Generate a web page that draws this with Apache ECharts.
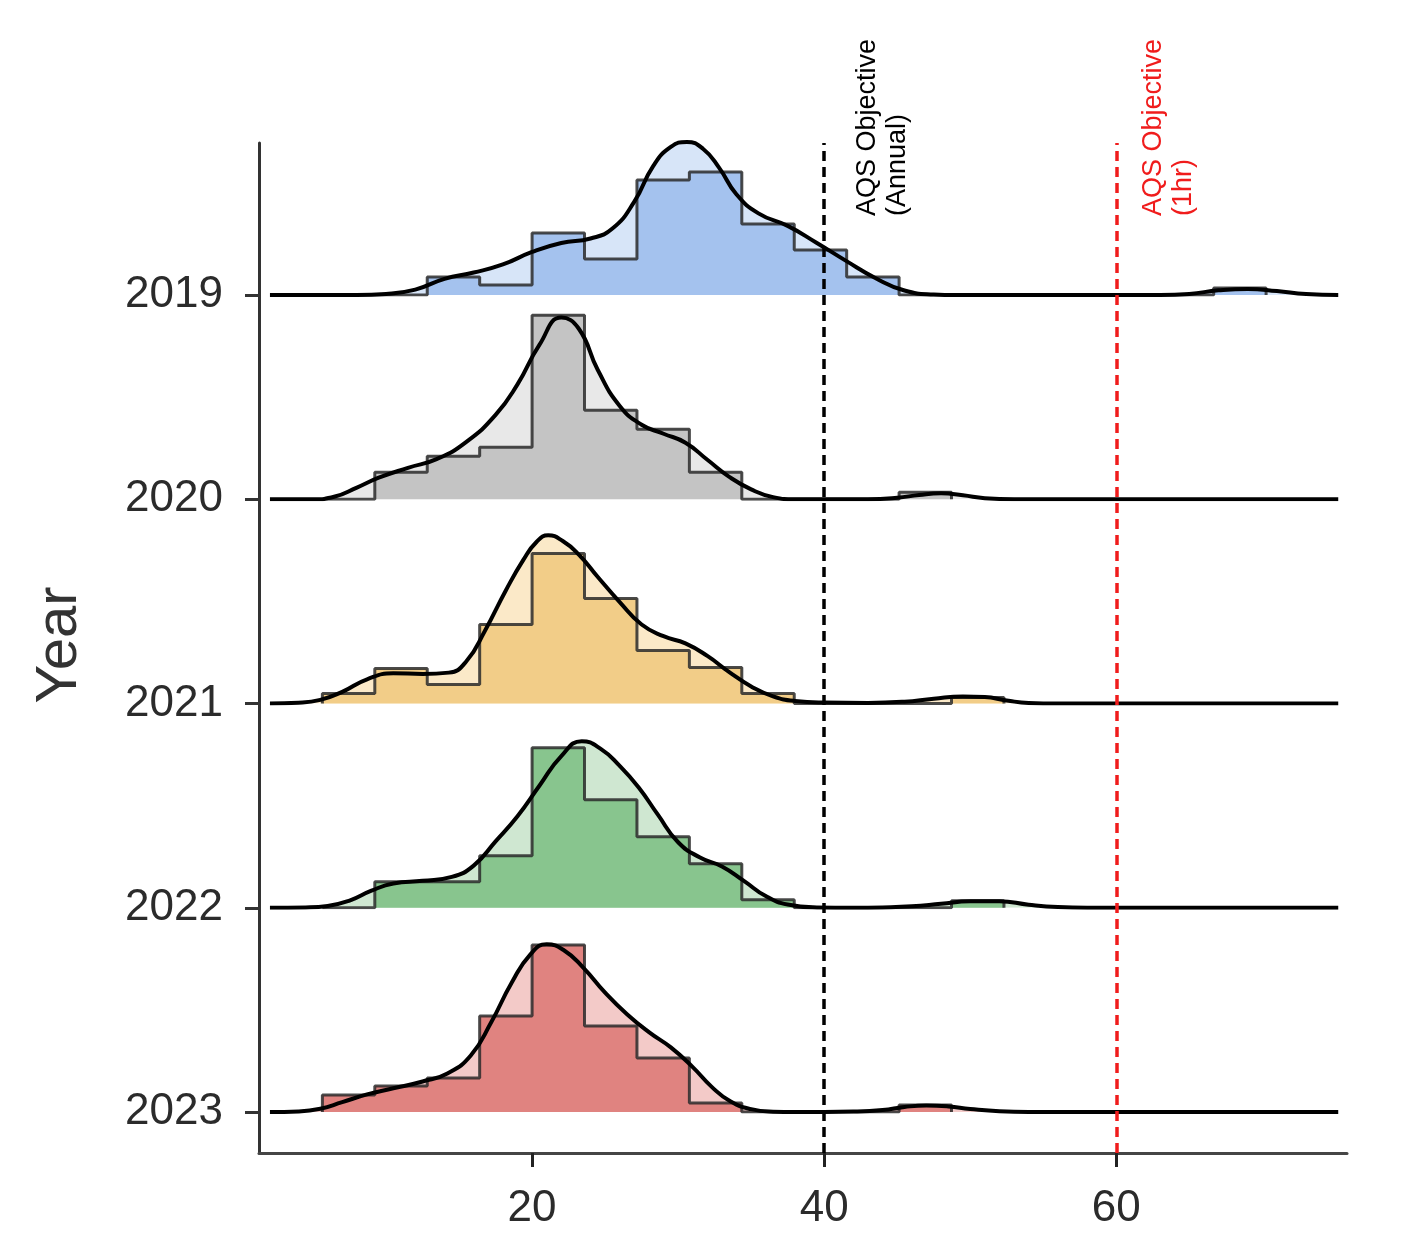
<!DOCTYPE html>
<html>
<head>
<meta charset="utf-8">
<title>NO2 distribution by year</title>
<script src="https://cdn.jsdelivr.net/npm/echarts@6/dist/echarts.min.js"></script>
<style>
  html, body { margin: 0; padding: 0; background: #ffffff; }
  #chart { width: 1421px; height: 1255px; }
</style>
</head>
<body>
<div id="chart"></div>
<script>
// ---- data ----------------------------------------------------------------
const years = ['2019', '2020', '2021', '2022', '2023'];
const xTicks = [20, 40, 60];

// histogram bins: left edge of first bin and bin width (concentration units)
const binStart = 5.64;
const binWidth = 3.59;

// histogram densities, one value per bin starting at binStart
const hist2019 = [0, 0, 0.0100, 0.0056, 0.0345, 0.0201, 0.0641, 0.0685, 0.0396, 0.0251, 0.0100, 0, 0, 0, 0, 0, 0, 0.0039];
const hist2020 = [0, 0.0150, 0.0240, 0.0290, 0.1025, 0.0496, 0.0390, 0.0150, 0, 0, 0, 0.0039];
const hist2021 = [0.0056, 0.0195, 0.0106, 0.0440, 0.0836, 0.0585, 0.0295, 0.0201, 0.0056, 0, 0, 0, 0.0033];
const hist2022 = [0, 0.0145, 0.0145, 0.0290, 0.0891, 0.0602, 0.0396, 0.0245, 0.0045, 0, 0, 0, 0.0039];
const hist2023 = [0.0095, 0.0145, 0.0189, 0.0535, 0.0930, 0.0479, 0.0301, 0.0050, 0, 0, 0, 0.0039];

// kernel density estimates as [concentration, density]
const dens2019 = [[2.05,0],[8,0],[10,0.0006],[12,0.0030],[14,0.0090],[16,0.0125],[18,0.0170],[20,0.0240],[22,0.0290],[24,0.0315],[25.5,0.0370],[27,0.0520],[28.3,0.0720],[29.5,0.0825],[30.6,0.0853],[31.7,0.0815],[32.8,0.0710],[34,0.0560],[35.5,0.0455],[37.5,0.0385],[39.5,0.0290],[41.5,0.0190],[43.5,0.0095],[45.5,0.0025],[47.5,0.0003],[49,0],[63,0],[65,0.0006],[67,0.0026],[69,0.0034],[71,0.0022],[73,0.0005],[75.2,0]];
const dens2020 = [[2.05,0],[5,0],[6.5,0.0015],[8,0.0065],[9.5,0.0120],[11.5,0.0175],[13.5,0.0225],[15.5,0.0320],[17.5,0.0470],[19,0.0640],[20.5,0.0860],[22,0.1012],[23.2,0.0950],[24.5,0.0720],[26,0.0520],[27.5,0.0415],[29,0.0365],[30.5,0.0315],[32,0.0220],[33.5,0.0125],[35,0.0055],[36.5,0.0012],[38,0],[43,0],[45,0.0008],[46.5,0.0024],[48,0.0033],[49.5,0.0022],[51,0.0006],[53,0],[75.2,0]];
const dens2021 = [[2.05,0],[4,0.0004],[5.5,0.0020],[7,0.0065],[8.7,0.0135],[10.5,0.0168],[12.5,0.0165],[14.3,0.0172],[15.5,0.0235],[16.8,0.0410],[18.2,0.0630],[19.4,0.0800],[20.3,0.0900],[21.1,0.0937],[22.1,0.0905],[23.2,0.0830],[24.5,0.0705],[26,0.0565],[27.5,0.0440],[29,0.0375],[30.5,0.0335],[32,0.0265],[33.5,0.0175],[35,0.0095],[36.5,0.0040],[38,0.0014],[40,0.0005],[43,0.0003],[45.5,0.0010],[47.5,0.0027],[49.5,0.0039],[51,0.0036],[52.5,0.0017],[54,0.0003],[56,0],[75.2,0]];
const dens2022 = [[2.05,0],[4.5,0.0002],[6,0.0010],[7.5,0.0040],[9,0.0095],[10.5,0.0135],[12.5,0.0150],[14.5,0.0172],[16,0.0235],[17.5,0.0370],[19,0.0510],[20.5,0.0680],[22,0.0845],[23.4,0.0928],[24.7,0.0885],[26,0.0790],[27.3,0.0670],[28.6,0.0520],[30,0.0365],[31.5,0.0280],[33,0.0230],[34.5,0.0150],[36,0.0065],[37.5,0.0018],[39.5,0.0002],[42,0],[44,0.0002],[46,0.0008],[48,0.0022],[50,0.0036],[52,0.0036],[54,0.0017],[56,0.0004],[58,0],[75.2,0]];
const dens2023 = [[2.05,0],[4,0.0003],[5.5,0.0018],[7,0.0055],[8.7,0.0098],[10.5,0.0132],[12.5,0.0170],[14.2,0.0215],[15.8,0.0315],[17.2,0.0500],[18.6,0.0720],[19.9,0.0880],[21,0.0935],[22.2,0.0900],[23.5,0.0805],[25,0.0665],[26.5,0.0545],[28,0.0445],[29.5,0.0360],[31,0.0250],[32.3,0.0140],[33.6,0.0058],[35,0.0016],[36.5,0.0002],[38,0],[42,0.0003],[44,0.0011],[45.5,0.0028],[47,0.0036],[48.5,0.0031],[50,0.0017],[52,0.0004],[54,0],[75.2,0]];

// air quality objective reference lines
const objectiveValues = [40, 60];
const objectiveLabels = ['AQS Objective\n(Annual)', 'AQS Objective\n(1hr)'];

// ---- styling ---------------------------------------------------------------
const histColors = ['#a4c2ee', '#c4c4c4', '#f2cd88', '#88c58e', '#e08380'];
const densColors = ['#d7e5f8', '#e8e8e8', '#fbe9c8', '#cfe7d1', '#f3cac8'];
const objectiveColors = ['#000000', '#f01c1c'];

const FONT = '"Liberation Sans", Arial, sans-serif';
const X_MIN = 1.3, X_MAX = 75.8;
const LEFT = 259, RIGHT = 74;
const FIRST_BASE = 295;      // baseline of the top ridge (px)
const RIDGE_STEP = 204.25;   // distance between ridge baselines (px)
const RIDGE_MAX = 0.1138;    // density spanned by one ridge step

const histByYear = [hist2019, hist2020, hist2021, hist2022, hist2023];
const densByYear = [dens2019, dens2020, dens2021, dens2022, dens2023];

// outline of a histogram as a step line over the bin edges
function histSteps(bins) {
  const pts = [[binStart, 0]];
  bins.forEach((h, i) => pts.push([binStart + i * binWidth, h]));
  pts.push([binStart + bins.length * binWidth, 0]);
  return pts;
}

const grids = [
  { left: LEFT, right: RIGHT, top: 143, bottom: 102 },                                   // frame + x axis
  { left: LEFT, right: RIGHT, top: FIRST_BASE, height: RIDGE_STEP * (years.length - 1) } // year labels
];
const xAxes = [
  {
    gridIndex: 0, type: 'value', min: X_MIN, max: X_MAX,
    axisLine: { show: true, lineStyle: { color: '#454545', width: 3 } },
    axisTick: { show: true, customValues: xTicks, length: 14, lineStyle: { color: '#222', width: 3 } },
    axisLabel: { show: true, customValues: xTicks, fontSize: 44, color: '#2b2b2b', margin: 34, fontFamily: FONT },
    splitLine: { show: false }
  },
  { gridIndex: 1, type: 'value', min: X_MIN, max: X_MAX, show: false }
];
const yAxes = [
  {
    gridIndex: 0, type: 'value', min: 0, max: 1,
    axisLine: { show: true, lineStyle: { color: '#333', width: 3 } },
    axisTick: { show: false }, axisLabel: { show: false }, splitLine: { show: false }
  },
  {
    gridIndex: 1, type: 'category', data: years, inverse: true, boundaryGap: false,
    axisLine: { show: false },
    axisTick: { show: true, length: 14, lineStyle: { color: '#333', width: 3 } },
    axisLabel: { fontSize: 44, color: '#2b2b2b', margin: 36, fontFamily: FONT },
    splitLine: { show: false }
  }
];
const series = [];

years.forEach((year, i) => {
  const g = 2 + i;
  grids.push({ left: LEFT, right: RIGHT, top: FIRST_BASE + (i - 1) * RIDGE_STEP, height: RIDGE_STEP });
  xAxes.push({ gridIndex: g, type: 'value', min: X_MIN, max: X_MAX, show: false });
  yAxes.push({ gridIndex: g, type: 'value', min: 0, max: RIDGE_MAX, show: false });

  // pale area under the density curve
  series.push({
    name: year + ' density area', type: 'line', xAxisIndex: g, yAxisIndex: g,
    data: densByYear[i], smooth: 0.5, showSymbol: false, silent: true,
    lineStyle: { width: 0 }, areaStyle: { color: densColors[i], opacity: 1 }, z: 2
  });
  // histogram
  series.push({
    name: year + ' histogram', type: 'line', xAxisIndex: g, yAxisIndex: g,
    data: histSteps(histByYear[i]), step: 'end', showSymbol: false, silent: true,
    lineStyle: { color: '#2a2a2a', width: 3, opacity: 0.85 },
    areaStyle: { color: histColors[i], opacity: 1 }, z: 3
  });
  // density curve
  series.push({
    name: year + ' density', type: 'line', xAxisIndex: g, yAxisIndex: g,
    data: densByYear[i], smooth: 0.5, showSymbol: false, silent: true,
    lineStyle: { color: '#000000', width: 4 }, z: 4
  });
});

// dashed objective lines across the whole panel
series.push({
  name: 'objectives', type: 'line', xAxisIndex: 0, yAxisIndex: 0, data: [], z: 10,
  markLine: {
    symbol: 'none', silent: true, animation: false, label: { show: false },
    data: objectiveValues.map((v, k) => ({
      xAxis: v, lineStyle: { color: objectiveColors[k], type: [10, 6], width: 3.5 }
    }))
  }
});

const option = {
  animation: false,
  backgroundColor: '#ffffff',
  grid: grids,
  xAxis: xAxes,
  yAxis: yAxes,
  series: series,
  graphic: [
    {
      type: 'text', x: 60, y: 645, rotation: Math.PI / 2,
      style: { text: 'Year', fontSize: 58, fill: '#333333', align: 'center', verticalAlign: 'middle', fontFamily: FONT }
    },
    {
      type: 'text', x: 853, y: 216, rotation: Math.PI / 2,
      style: { text: objectiveLabels[0], fontSize: 27, lineHeight: 30, fill: objectiveColors[0], align: 'left', verticalAlign: 'top', fontFamily: FONT }
    },
    {
      type: 'text', x: 1139, y: 216, rotation: Math.PI / 2,
      style: { text: objectiveLabels[1], fontSize: 27, lineHeight: 30, fill: objectiveColors[1], align: 'left', verticalAlign: 'top', fontFamily: FONT }
    }
  ]
};

const chart = echarts.init(document.getElementById('chart'), null, { renderer: 'canvas' });
chart.setOption(option);
</script>
</body>
</html>
